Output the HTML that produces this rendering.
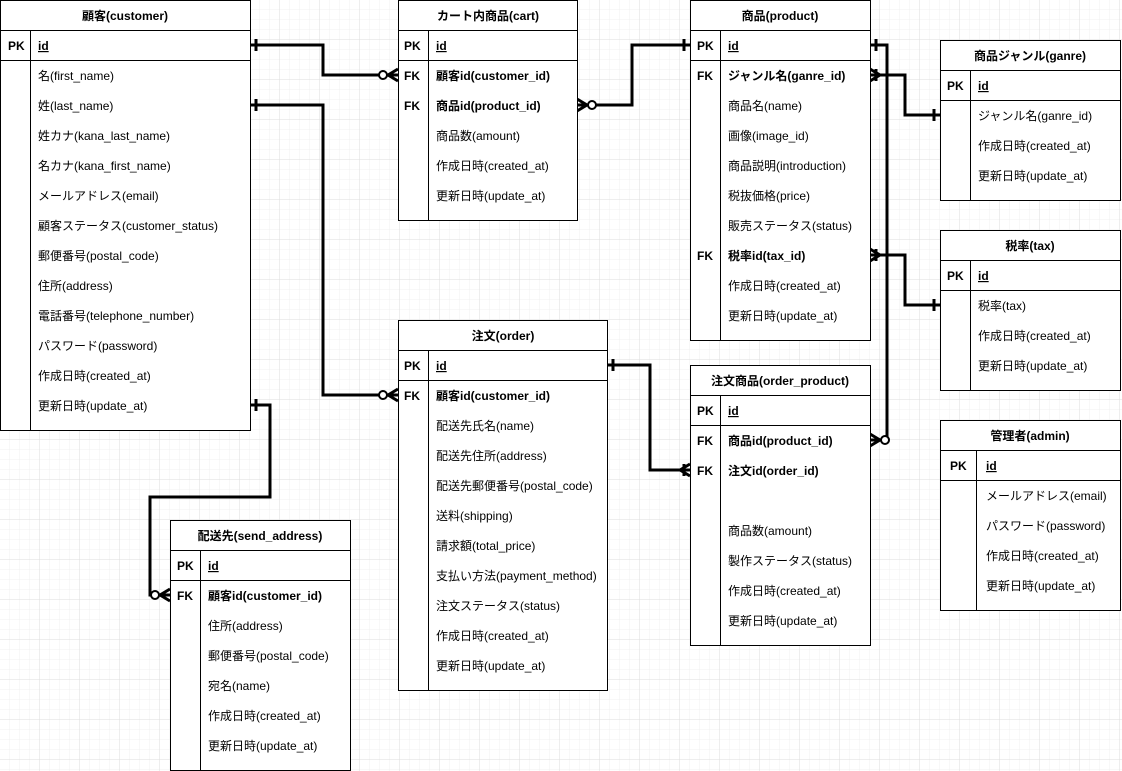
<!DOCTYPE html>
<html><head><meta charset="utf-8"><style>
html,body{margin:0;padding:0;background:#fff;}
svg{display:block;font-family:"Liberation Sans","Noto Sans CJK JP",sans-serif;font-size:12px;}
.h{font-weight:bold;text-anchor:middle;}
.b{font-weight:bold;}
.box{fill:#fff;stroke:#000;stroke-width:1;}
.ln{stroke:#000;stroke-width:1;}
.c{fill:none;stroke:#000;stroke-width:3;}
</style></head><body>
<svg width="1122" height="771" viewBox="0 0 1122 771" xmlns="http://www.w3.org/2000/svg">
<defs>
<pattern id="g" width="10" height="10" patternUnits="userSpaceOnUse"><path d="M10 0V10M0 10H10" fill="none" stroke="#f0f0f0" stroke-width="1"/></pattern>
<pattern id="G" width="40" height="40" patternUnits="userSpaceOnUse"><rect width="40" height="40" fill="url(#g)"/><path d="M40 0V40M0 40H40" fill="none" stroke="#dedede" stroke-width="1"/></pattern>
</defs>
<rect width="1122" height="771" fill="url(#G)"/>

<!-- connectors -->
<path class="c" d="M250 45H323V75H398"/>
<path class="c" d="M250 105H323V395H398"/>
<path class="c" d="M577 105H632V45H690"/>
<path class="c" d="M870 45H887V440H870"/>
<path class="c" d="M870 75H905V115H940"/>
<path class="c" d="M870 255H905V305H940"/>
<path class="c" d="M607 365H650V470H690"/>
<path class="c" d="M250 405H270V497H150V595H170"/>
<!-- one marks -->
<g stroke="#000" stroke-width="3">
<path d="M256 39V51M256 99V111M256 399V411M684 39V51M876 39V51M934 109V121M934 299V311M613 359V371M684 464V476"/>
<!-- crow feet -->
<path d="M388 75L398 69M388 75L398 81M388 395L398 389M388 395L398 401M587 105L577 99M587 105L577 111M880 440L870 434M880 440L870 446M160 595L170 589M160 595L170 601" fill="none"/>
<path d="M880 75L870 69M880 75L870 81M876 69V81M880 255L870 249M880 255L870 261M876 249V261M680 470L690 464M680 470L690 476M684 464V476" fill="none"/>
</g>
<g fill="#fff" stroke="#000" stroke-width="2">
<circle cx="383" cy="75" r="4"/><circle cx="383" cy="395" r="4"/><circle cx="592" cy="105" r="4"/><circle cx="885" cy="440" r="4"/><circle cx="155" cy="595" r="4"/>
</g>

<!-- customer -->
<rect class="box" x="0.5" y="0.5" width="250" height="430"/>
<path class="ln" d="M0 30.5H250M0 60.5H250M30.5 30V430"/>
<text class="h" x="125" y="20">顧客(customer)</text>
<text class="b" x="8" y="50">PK</text><text class="b" x="38" y="50" text-decoration="underline">id</text>
<text x="38" y="80">名(first_name)</text>
<text x="38" y="110">姓(last_name)</text>
<text x="38" y="140">姓カナ(kana_last_name)</text>
<text x="38" y="170">名カナ(kana_first_name)</text>
<text x="38" y="200">メールアドレス(email)</text>
<text x="38" y="230">顧客ステータス(customer_status)</text>
<text x="38" y="260">郵便番号(postal_code)</text>
<text x="38" y="290">住所(address)</text>
<text x="38" y="320">電話番号(telephone_number)</text>
<text x="38" y="350">パスワード(password)</text>
<text x="38" y="380">作成日時(created_at)</text>
<text x="38" y="410">更新日時(update_at)</text>

<!-- cart -->
<rect class="box" x="398.5" y="0.5" width="179" height="220"/>
<path class="ln" d="M398 30.5H577M398 60.5H577M428.5 30V220"/>
<text class="h" x="488" y="20">カート内商品(cart)</text>
<text class="b" x="404" y="50">PK</text><text class="b" x="436" y="50" text-decoration="underline">id</text>
<text class="b" x="404" y="80">FK</text><text class="b" x="436" y="80">顧客id(customer_id)</text>
<text class="b" x="404" y="110">FK</text><text class="b" x="436" y="110">商品id(product_id)</text>
<text x="436" y="140">商品数(amount)</text>
<text x="436" y="170">作成日時(created_at)</text>
<text x="436" y="200">更新日時(update_at)</text>

<!-- product -->
<rect class="box" x="690.5" y="0.5" width="180" height="340"/>
<path class="ln" d="M690 30.5H870M690 60.5H870M720.5 30V340"/>
<text class="h" x="780" y="20">商品(product)</text>
<text class="b" x="697" y="50">PK</text><text class="b" x="728" y="50" text-decoration="underline">id</text>
<text class="b" x="697" y="80">FK</text><text class="b" x="728" y="80">ジャンル名(ganre_id)</text>
<text x="728" y="110">商品名(name)</text>
<text x="728" y="140">画像(image_id)</text>
<text x="728" y="170">商品説明(introduction)</text>
<text x="728" y="200">税抜価格(price)</text>
<text x="728" y="230">販売ステータス(status)</text>
<text class="b" x="697" y="260">FK</text><text class="b" x="728" y="260">税率id(tax_id)</text>
<text x="728" y="290">作成日時(created_at)</text>
<text x="728" y="320">更新日時(update_at)</text>

<!-- genre -->
<rect class="box" x="940.5" y="40.5" width="180" height="160"/>
<path class="ln" d="M940 70.5H1120M940 100.5H1120M970.5 70V200"/>
<text class="h" x="1030" y="60">商品ジャンル(ganre)</text>
<text class="b" x="947" y="90">PK</text><text class="b" x="978" y="90" text-decoration="underline">id</text>
<text x="978" y="120">ジャンル名(ganre_id)</text>
<text x="978" y="150">作成日時(created_at)</text>
<text x="978" y="180">更新日時(update_at)</text>

<!-- tax -->
<rect class="box" x="940.5" y="230.5" width="180" height="160"/>
<path class="ln" d="M940 260.5H1120M940 290.5H1120M970.5 260V390"/>
<text class="h" x="1030" y="250">税率(tax)</text>
<text class="b" x="947" y="280">PK</text><text class="b" x="978" y="280" text-decoration="underline">id</text>
<text x="978" y="310">税率(tax)</text>
<text x="978" y="340">作成日時(created_at)</text>
<text x="978" y="370">更新日時(update_at)</text>

<!-- admin -->
<rect class="box" x="940.5" y="420.5" width="180" height="190"/>
<path class="ln" d="M940 450.5H1120M940 480.5H1120M976.5 450V610"/>
<text class="h" x="1030" y="440">管理者(admin)</text>
<text class="b" x="950" y="470">PK</text><text class="b" x="986" y="470" text-decoration="underline">id</text>
<text x="986" y="500">メールアドレス(email)</text>
<text x="986" y="530">パスワード(password)</text>
<text x="986" y="560">作成日時(created_at)</text>
<text x="986" y="590">更新日時(update_at)</text>

<!-- order -->
<rect class="box" x="398.5" y="320.5" width="209" height="370"/>
<path class="ln" d="M398 350.5H607M398 380.5H607M428.5 350V690"/>
<text class="h" x="503" y="340">注文(order)</text>
<text class="b" x="404" y="370">PK</text><text class="b" x="436" y="370" text-decoration="underline">id</text>
<text class="b" x="404" y="400">FK</text><text class="b" x="436" y="400">顧客id(customer_id)</text>
<text x="436" y="430">配送先氏名(name)</text>
<text x="436" y="460">配送先住所(address)</text>
<text x="436" y="490">配送先郵便番号(postal_code)</text>
<text x="436" y="520">送料(shipping)</text>
<text x="436" y="550">請求額(total_price)</text>
<text x="436" y="580">支払い方法(payment_method)</text>
<text x="436" y="610">注文ステータス(status)</text>
<text x="436" y="640">作成日時(created_at)</text>
<text x="436" y="670">更新日時(update_at)</text>

<!-- order_product -->
<rect class="box" x="690.5" y="365.5" width="180" height="280"/>
<path class="ln" d="M690 395.5H870M690 425.5H870M720.5 395V645"/>
<text class="h" x="780" y="385">注文商品(order_product)</text>
<text class="b" x="697" y="415">PK</text><text class="b" x="728" y="415" text-decoration="underline">id</text>
<text class="b" x="697" y="445">FK</text><text class="b" x="728" y="445">商品id(product_id)</text>
<text class="b" x="697" y="475">FK</text><text class="b" x="728" y="475">注文id(order_id)</text>
<text x="728" y="535">商品数(amount)</text>
<text x="728" y="565">製作ステータス(status)</text>
<text x="728" y="595">作成日時(created_at)</text>
<text x="728" y="625">更新日時(update_at)</text>

<!-- send_address -->
<rect class="box" x="170.5" y="520.5" width="180" height="250"/>
<path class="ln" d="M170 550.5H350M170 580.5H350M200.5 550V770"/>
<text class="h" x="260" y="540">配送先(send_address)</text>
<text class="b" x="177" y="570">PK</text><text class="b" x="208" y="570" text-decoration="underline">id</text>
<text class="b" x="177" y="600">FK</text><text class="b" x="208" y="600">顧客id(customer_id)</text>
<text x="208" y="630">住所(address)</text>
<text x="208" y="660">郵便番号(postal_code)</text>
<text x="208" y="690">宛名(name)</text>
<text x="208" y="720">作成日時(created_at)</text>
<text x="208" y="750">更新日時(update_at)</text>
</svg>
</body></html>
